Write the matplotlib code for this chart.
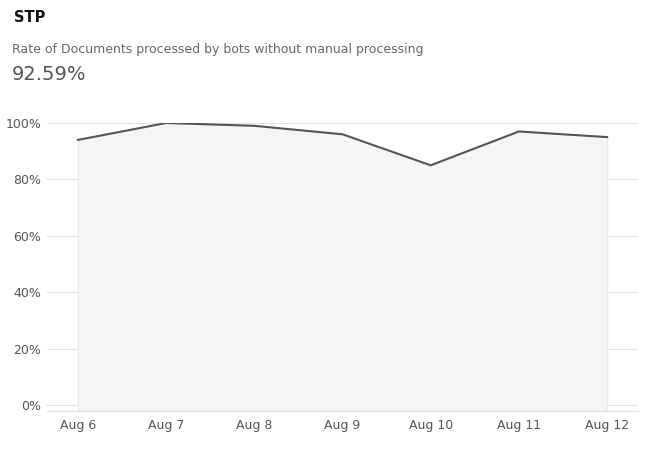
import matplotlib.pyplot as plt
import numpy as np

days = ["Aug 6", "Aug 7", "Aug 8", "Aug 9", "Aug 10", "Aug 11", "Aug 12"]
rate = [94, 100, 99, 96, 85, 97, 95]
yticks = [0, 20, 40, 60, 80, 100]

fig = plt.figure(figsize=(6.56, 4.59), dpi=100)
ax = fig.add_axes([47 / 656, 48 / 459, 591 / 656, 288 / 459])

x = np.arange(len(days))
ymin = -2.1
ax.fill_between(x, rate, ymin, color="#f5f5f5", zorder=1)
ax.plot(x, rate, color="#4f5660", linewidth=1.5, zorder=3)
ax.vlines([x[0], x[-1]], ymin, [rate[0], rate[-1]], color="#e8e8e8", linewidth=0.8, zorder=2)

ax.set_xlim(-0.35, len(days) - 0.65)
ax.set_ylim(ymin, 100)
ax.set_xticks(x, days)
ax.set_yticks(yticks, [f"{v}%" for v in yticks])
ax.grid(axis="y", color="#e2e2e2", linewidth=0.8)
ax.set_axisbelow(True)
for s in ["top", "right", "left"]:
    ax.spines[s].set_visible(False)
ax.spines["bottom"].set_color("#dddddd")
ax.tick_params(axis="both", length=0, labelsize=9, colors="#555555")
ax.tick_params(axis="x", pad=6)
ax.tick_params(axis="y", pad=4)

fig.text(14 / 656, 1 - 18 / 459, "STP", fontsize=10.5, fontweight="bold", va="center", color="#111111")
fig.text(12 / 656, 1 - 49 / 459, "Rate of Documents processed by bots without manual processing",
         fontsize=9, va="center", color="#666666")
fig.text(12 / 656, 1 - 75 / 459, "92.59%", fontsize=14, va="center", color="#555555")

fig.savefig("out.png", dpi=100)
